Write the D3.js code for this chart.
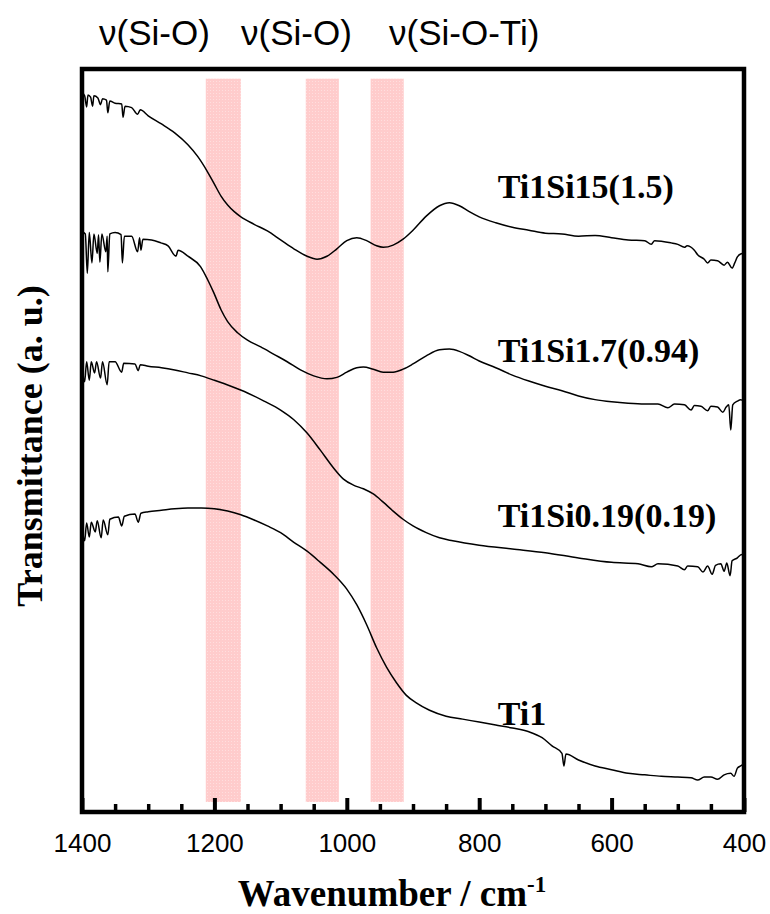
<!DOCTYPE html>
<html>
<head>
<meta charset="utf-8">
<script src="https://cdn.jsdelivr.net/npm/d3@7"></script>
<style>
  body { margin: 0; background: #fff; }
</style>
</head>
<body>
<svg id="chart"></svg>
<script>
// ---- data: [wavenumber (cm-1), transmittance (a.u., offset)] ----
const ti1si15 = [
  [1400,96.8],[1396,96.4],[1393,94.9],[1391,96.5],[1387,96.2],[1384,95.0],[1382,96.4],
  [1376,96.1],[1372,95.2],[1369,96.0],[1363,95.8],[1361,94.1],[1358,95.7],[1350,95.4],
  [1340,95.3],[1338,93.5],[1335,95.0],[1325,94.8],[1316,93.9],[1312,94.5],[1300,93.7],
  [1280,92.6],[1260,91.4],[1240,89.8],[1225,88.2],[1210,86.1],[1200,84.5],[1190,82.9],
  [1180,81.7],[1170,80.8],[1160,80.1],[1140,79.1],[1120,78.2],[1100,77.0],[1080,75.8],
  [1060,74.8],[1045,74.4],[1030,74.8],[1015,75.8],[1000,76.9],[985,77.3],[970,76.9],
  [955,76.2],[945,76.0],[930,76.3],[915,77.1],[900,78.3],[880,80.2],[860,81.6],
  [845,82.0],[830,81.6],[815,80.8],[800,80.1],[775,79.3],[750,78.7],[725,78.3],
  [700,77.9],[675,77.8],[650,77.5],[625,77.6],[600,77.3],[575,77.0],[550,76.9],
  [540,76.4],[535,76.9],[510,76.6],[500,76.4],[490,76.0],[486,76.2],[475,75.6],
  [470,75.0],[460,74.4],[455,73.9],[450,74.3],[440,74.2],[430,73.6],[425,74.0],
  [418,73.2],[414,73.9],[410,74.7],[405,75.1],[400,75.2]
];
const ti1si17 = [
  [1400,78.1],[1395,77.8],[1392,72.5],[1389,78.0],[1385,73.9],[1382,77.8],[1377,75.2],
  [1375,77.7],[1373,74.0],[1370,77.8],[1364,75.4],[1362,77.5],[1361,72.7],[1358,77.8],
  [1350,78.0],[1341,77.7],[1339,73.9],[1336,77.5],[1325,77.5],[1316,75.4],[1313,77.3],
  [1311,75.6],[1308,77.1],[1295,77.0],[1281,76.6],[1270,76.2],[1258,74.8],[1255,75.6],
  [1240,74.8],[1221,73.4],[1210,71.6],[1201,69.9],[1190,67.6],[1180,66.0],[1165,64.5],
  [1150,63.5],[1130,62.6],[1110,61.6],[1090,60.6],[1070,59.5],[1050,58.7],[1030,58.3],
  [1015,58.5],[1000,59.2],[985,59.8],[975,59.9],[960,59.6],[945,59.2],[930,59.2],
  [915,59.6],[900,60.3],[880,61.4],[860,62.2],[845,62.3],[830,62.0],[815,61.4],
  [800,60.7],[775,59.8],[750,58.8],[725,58.0],[700,57.3],[675,56.7],[650,56.0],
  [625,55.5],[600,55.2],[575,55.0],[550,54.9],[530,54.9],[515,54.4],[505,54.9],
  [490,54.8],[480,54.1],[475,54.7],[465,54.6],[455,54.0],[450,54.6],[440,54.5],
  [432,53.8],[427,54.5],[423,54.8],[420,51.4],[417,54.8],[410,55.3],[405,55.5],[400,55.3]
];
const ti1si019 = [
  [1400,60.6],[1396,57.9],[1393,60.6],[1389,58.1],[1386,60.6],[1381,59.1],[1378,60.6],
  [1372,58.4],[1369,60.6],[1362,57.5],[1359,60.6],[1350,60.6],[1340,59.2],[1337,60.4],
  [1320,60.3],[1315,59.4],[1312,60.2],[1300,60.0],[1280,59.8],[1260,59.5],[1240,59.1],
  [1220,58.7],[1200,58.1],[1175,57.3],[1150,56.4],[1125,55.3],[1100,54.1],[1080,52.8],
  [1060,51.0],[1040,48.7],[1020,46.3],[1005,44.8],[990,44.0],[975,43.5],[960,42.8],
  [945,41.7],[930,40.5],[915,39.4],[900,38.5],[880,37.6],[860,36.9],[840,36.5],
  [800,35.9],[750,35.4],[700,34.9],[650,34.2],[600,33.6],[560,33.4],[540,33.0],
  [530,33.4],[500,33.1],[490,32.6],[485,33.1],[470,33.0],[462,32.3],[455,33.1],
  [448,32.0],[443,33.2],[435,33.4],[430,32.4],[426,33.5],[421,31.8],[418,33.8],
  [410,34.2],[405,34.6],[400,34.7]
];
const ti1 = [
  [1400,38.8],[1396,36.5],[1393,38.9],[1389,37.0],[1386,39.0],[1380,37.7],[1377,39.2],
  [1371,36.9],[1368,39.3],[1361,37.3],[1358,39.4],[1345,39.7],[1340,38.5],[1336,39.8],
  [1320,40.1],[1315,39.0],[1311,40.2],[1300,40.4],[1280,40.6],[1260,40.8],[1240,40.9],
  [1220,40.9],[1200,40.8],[1180,40.5],[1160,40.0],[1140,39.3],[1120,38.5],[1100,37.6],
  [1080,36.3],[1060,35.1],[1040,33.6],[1020,32.0],[1000,30.0],[985,27.9],[970,25.2],
  [955,22.1],[940,19.5],[925,17.4],[910,15.7],[895,14.7],[875,13.7],[850,12.9],
  [825,12.5],[800,12.1],[775,11.7],[750,11.3],[725,10.8],[705,10.0],[690,8.9],
  [675,7.9],[672,6.2],[669,7.8],[650,7.0],[625,6.2],[600,5.7],[575,5.2],[550,5.0],
  [525,4.8],[500,4.7],[480,4.6],[470,4.3],[460,4.7],[450,4.7],[440,4.4],[430,5.0],
  [420,5.2],[415,4.8],[410,5.9],[405,6.2],[400,6.5]
];

const series = [ti1si15, ti1si17, ti1si019, ti1];
const seriesNames = ["Ti1Si15(1.5)", "Ti1Si1.7(0.94)", "Ti1Si0.19(0.19)", "Ti1"];
// label anchor in data units [wavenumber, a.u.]
const labelAnchors = [[772, 82.6], [772, 60.6], [772, 38.4], [772, 11.7]];

// shaded bands [from, to] in cm-1 and their assignments
const bands = [[1213, 1160], [1062, 1012], [964, 914]];
const bandNames = ["\u03bd(Si-O)", "\u03bd(Si-O)", "\u03bd(Si-O-Ti)"];

const majorTicks = [1400, 1200, 1000, 800, 600, 400];
const minorTicks = [1350, 1300, 1250, 1150, 1100, 1050, 950, 900, 850, 750, 700, 650, 550, 500, 450];

// ---- layout ----
const W = 770, H = 914;
const margin = {top: 69, right: 26, bottom: 102, left: 82};
const x0 = margin.left, x1 = W - margin.right;
const y0 = margin.top, y1 = H - margin.bottom;

const svg = d3.select("#chart")
  .attr("width", W)
  .attr("height", H)
  .style("font-family", "'Liberation Sans', Arial, sans-serif");

const xScale = d3.scaleLinear().domain([1400, 400]).range([x0, x1]);
const yScale = d3.scaleLinear().domain([0, 100]).range([y1, y0]);

// bands (light pink, slightly textured)
const defs = svg.append("defs");
const pat = defs.append("pattern")
  .attr("id", "pinkTex")
  .attr("width", 3).attr("height", 3)
  .attr("patternUnits", "userSpaceOnUse");
pat.append("rect").attr("width", 3).attr("height", 3).attr("fill", "#ffcccc");
pat.append("rect").attr("width", 1).attr("height", 1).attr("fill", "#ffdede");

svg.selectAll("rect.band")
  .data(bands)
  .enter()
  .append("rect")
  .attr("class", "band")
  .attr("x", d => xScale(d[0]))
  .attr("width", d => xScale(d[1]) - xScale(d[0]))
  .attr("y", yScale(98.7))
  .attr("height", yScale(1.35) - yScale(98.7))
  .attr("fill", "url(#pinkTex)");

// band names above the frame
const bandNameX = [99, 241, 389];
svg.selectAll("text.bandName")
  .data(bandNames)
  .enter()
  .append("text")
  .attr("class", "bandName")
  .attr("x", (d, i) => bandNameX[i])
  .attr("y", 45)
  .attr("font-size", "35px")
  .attr("fill", "#000")
  .text(d => d);

// spectra
const line = d3.line()
  .x(d => xScale(d[0]))
  .y(d => yScale(d[1]))
  .curve(d3.curveMonotoneX);

svg.selectAll("path.spectrum")
  .data(series)
  .enter()
  .append("path")
  .attr("class", "spectrum")
  .attr("d", line)
  .attr("fill", "none")
  .attr("stroke", "#000")
  .attr("stroke-width", 1.5)
  .attr("stroke-linejoin", "round");

// series labels
svg.selectAll("text.seriesLabel")
  .data(seriesNames)
  .enter()
  .append("text")
  .attr("class", "seriesLabel")
  .attr("x", (d, i) => xScale(labelAnchors[i][0]))
  .attr("y", (d, i) => yScale(labelAnchors[i][1]))
  .attr("font-family", "'Liberation Serif', 'Times New Roman', serif")
  .attr("font-weight", "bold")
  .attr("font-size", "34px")
  .text(d => d);

// ticks, pointing inward from the bottom axis
svg.append("g")
  .attr("transform", "translate(0," + y1 + ")")
  .call(d3.axisBottom(xScale).tickValues(minorTicks).tickSize(-8).tickFormat(""))
  .call(g => g.select(".domain").remove())
  .call(g => g.selectAll("line").attr("stroke", "#000").attr("stroke-width", 3.5));

svg.append("g")
  .attr("transform", "translate(0," + y1 + ")")
  .call(d3.axisBottom(xScale).tickValues(majorTicks).tickSize(-14).tickFormat(d3.format("d")))
  .call(g => g.select(".domain").remove())
  .call(g => g.selectAll("line").attr("stroke", "#000").attr("stroke-width", 4))
  .call(g => g.selectAll("text")
    .attr("font-family", "'Liberation Sans', Arial, sans-serif")
    .attr("font-size", "26px")
    .attr("fill", "#000")
    .attr("dy", null)
    .attr("y", 40));

// frame
svg.append("rect")
  .attr("x", x0)
  .attr("y", y0)
  .attr("width", x1 - x0)
  .attr("height", y1 - y0)
  .attr("fill", "none")
  .attr("stroke", "#000")
  .attr("stroke-width", 4.5);

// axis titles
const xTitle = svg.append("text")
  .attr("x", 392)
  .attr("y", 906)
  .attr("text-anchor", "middle")
  .attr("font-family", "'Liberation Serif', 'Times New Roman', serif")
  .attr("font-weight", "bold")
  .attr("font-size", "37px");
xTitle.append("tspan").text("Wavenumber / cm");
xTitle.append("tspan").attr("dy", -14).attr("font-size", "23px").text("-1");

svg.append("text")
  .attr("transform", "translate(42,446) rotate(-90)")
  .attr("text-anchor", "middle")
  .attr("font-family", "'Liberation Serif', 'Times New Roman', serif")
  .attr("font-weight", "bold")
  .attr("font-size", "36px")
  .text("Transmittance (a. u.)");
</script>
</body>
</html>
